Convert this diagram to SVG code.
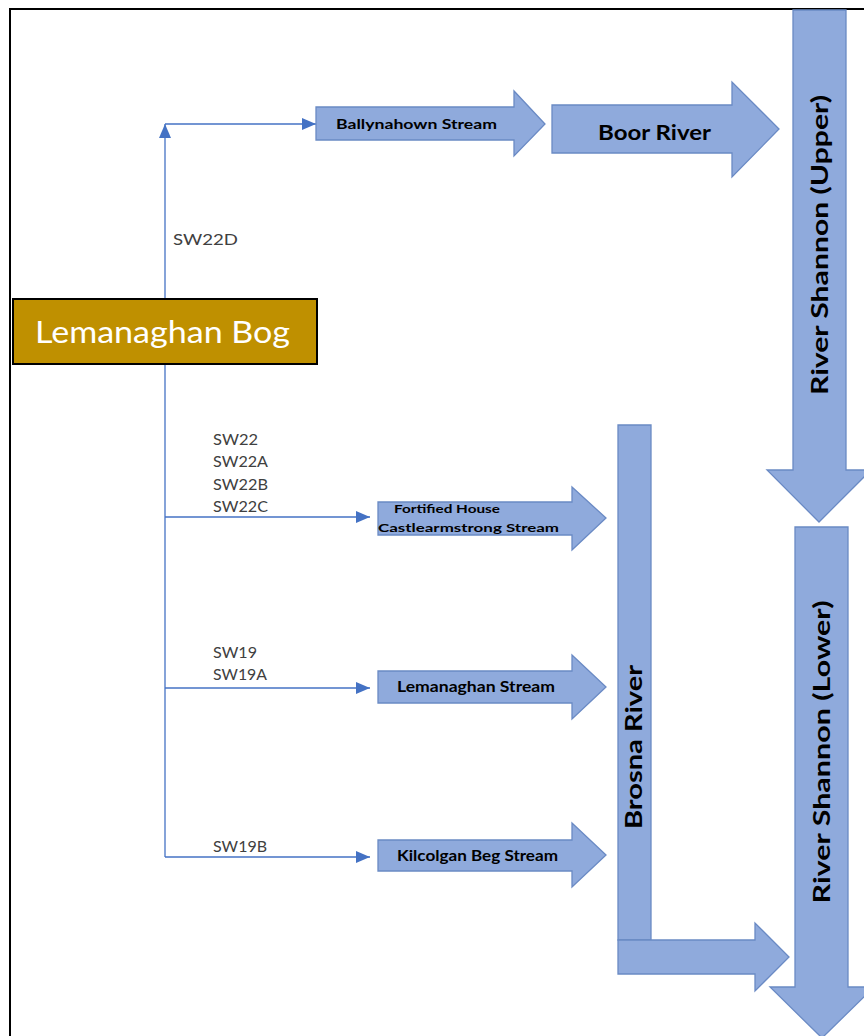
<svg xmlns="http://www.w3.org/2000/svg" width="864" height="1036" viewBox="0 0 864 1036">
<defs>
<marker id="ahb" viewBox="0 0 14 12" refX="14" refY="6" markerWidth="14" markerHeight="12" markerUnits="userSpaceOnUse" orient="auto"><path d="M0,0 L14,6 L0,12 z" fill="#4472C4"/></marker>
</defs>
<style>
.arr{fill:#8FAADC;stroke:#6A8AC4;stroke-width:1.3}
.lbl{font-family:Lato,"Liberation Sans",sans-serif;font-weight:bold;fill:#000}
.sw{font-family:Lato,"Liberation Sans",sans-serif;font-size:15px;fill:#404040}
.con{fill:none;stroke:#4472C4;stroke-width:1.3}
</style>
<rect width="864" height="1036" fill="#fff"/>
<path d="M10,1036 V9 H864" fill="none" stroke="#000" stroke-width="2"/>

<g id="connectors">
<path class="con" d="M165,857 V124" marker-end="url(#ahb)"/>
<path class="con" d="M165,124 H316" marker-end="url(#ahb)"/>
<path class="con" d="M165,517 H370" marker-end="url(#ahb)"/>
<path class="con" d="M165,688 H370" marker-end="url(#ahb)"/>
<path class="con" d="M165,857 H370" marker-end="url(#ahb)"/>
<text class="sw" x="173" y="245" textLength="65" lengthAdjust="spacingAndGlyphs">SW22D</text>
<text class="sw" x="213" y="445" textLength="45" lengthAdjust="spacingAndGlyphs">SW22</text>
<text class="sw" x="213" y="467" textLength="55" lengthAdjust="spacingAndGlyphs">SW22A</text>
<text class="sw" x="213" y="490" textLength="55" lengthAdjust="spacingAndGlyphs">SW22B</text>
<text class="sw" x="213" y="512" textLength="55" lengthAdjust="spacingAndGlyphs">SW22C</text>
<text class="sw" x="213" y="658" textLength="44" lengthAdjust="spacingAndGlyphs">SW19</text>
<text class="sw" x="213" y="680" textLength="54" lengthAdjust="spacingAndGlyphs">SW19A</text>
<text class="sw" x="213" y="852" textLength="54" lengthAdjust="spacingAndGlyphs">SW19B</text>
</g>

<g id="bog">
<rect x="13" y="299" width="304" height="65" fill="#BF9000" stroke="#000" stroke-width="2"/>
<text x="35" y="343" font-family="Lato,'Open Sans',sans-serif" font-size="30" fill="#fff" textLength="255" lengthAdjust="spacingAndGlyphs">Lemanaghan Bog</text>
</g>

<g id="ballynahown">
<path class="arr" d="M316,107 H514 V91 L545,124 L514,156 V140 H316 Z"/>
<text class="lbl" x="336" y="129" font-size="14" textLength="161" lengthAdjust="spacingAndGlyphs">Ballynahown Stream</text>
</g>

<g id="boor">
<path class="arr" d="M552,105 H732 V82 L779,129 L732,177 V153 H552 Z"/>
<text class="lbl" x="598" y="140" font-size="21" textLength="113" lengthAdjust="spacingAndGlyphs">Boor River</text>
</g>

<g id="shannon-upper">
<path class="arr" d="M793,10 H846 V470 H871 L819,522 L767,470 H793 Z"/>
<text class="lbl" transform="translate(828,245) rotate(-90)" text-anchor="middle" font-size="22" textLength="300" lengthAdjust="spacingAndGlyphs">River Shannon (Upper)</text>
</g>

<g id="shannon-lower">
<path class="arr" d="M795,527 H848 V987 H874 L822,1038 L770,987 H795 Z"/>
<text class="lbl" transform="translate(830,752) rotate(-90)" text-anchor="middle" font-size="22" textLength="303" lengthAdjust="spacingAndGlyphs">River Shannon (Lower)</text>
</g>

<g id="brosna">
<path class="arr" d="M618,425 H651 V940 H618 Z"/>
<path class="arr" d="M618,940 H755 V923 L789,957 L755,991 V974 H618 Z"/>
<text class="lbl" transform="translate(642,747) rotate(-90)" text-anchor="middle" font-size="22" textLength="164" lengthAdjust="spacingAndGlyphs">Brosna River</text>
</g>

<g id="fortified">
<path class="arr" d="M378,502 H572 V487 L606,518 L572,550 V535 H378 Z"/>
<text class="lbl" x="394" y="513" font-size="12" textLength="106" lengthAdjust="spacingAndGlyphs">Fortified House</text>
<text class="lbl" x="378" y="532" font-size="12" textLength="181" lengthAdjust="spacingAndGlyphs">Castlearmstrong Stream</text>
</g>

<g id="lemanaghan-stream">
<path class="arr" d="M378,671 H572 V655 L606,687 L572,719 V703 H378 Z"/>
<text class="lbl" x="397" y="692" font-size="15" textLength="158" lengthAdjust="spacingAndGlyphs">Lemanaghan Stream</text>
</g>

<g id="kilcolgan">
<path class="arr" d="M378,840 H572 V823 L606,855 L572,887 V871 H378 Z"/>
<text class="lbl" x="397" y="861" font-size="15" textLength="161" lengthAdjust="spacingAndGlyphs">Kilcolgan Beg Stream</text>
</g>
</svg>
